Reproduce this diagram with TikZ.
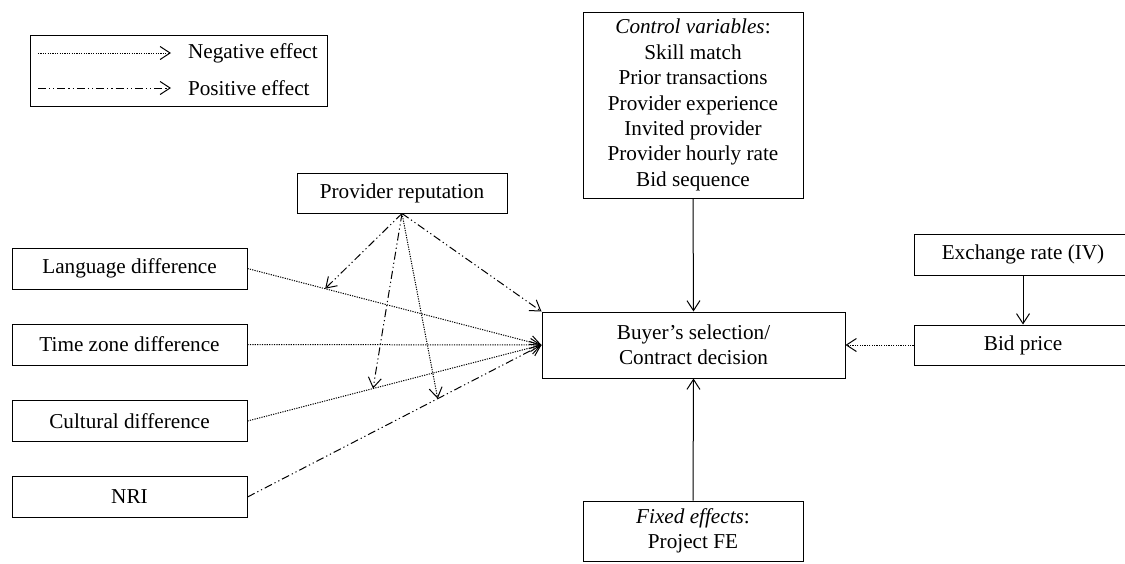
\documentclass[tikz,border=0pt]{standalone}
\usepackage{fontspec}
\setmainfont{Liberation Serif}
\usetikzlibrary{arrows.meta, positioning}

\begin{document}
\begin{tikzpicture}[
    x=0.5pt, y=-0.5pt,
    every node/.style={font=\fontsize{10.6}{12.7}\selectfont},
    box/.style={rectangle, draw, line width=0.5pt, inner sep=0pt, align=center},
    sidebox/.style={box, minimum width=117.5pt, minimum height=20.5pt},
    rightbox/.style={box, minimum width=109pt, minimum height=20.5pt},
    arrow/.style={-{Straight Barb[length=5pt,width=6.5pt]}, line width=0.5pt},
    negarrow/.style={arrow, dash pattern=on 0.6pt off 0.6pt},
    posarrow/.style={arrow, dash pattern=on 4pt off 1.5pt on 0.6pt off 1.5pt on 0.6pt off 1.5pt}
  ]
    \clip[use as bounding box] (0,0) rectangle (1125,563);

    % legend
    \node[box, minimum width=148.5pt, minimum height=35.5pt] (legend) at (178.5,70.5) {};
    \node[anchor=west] (negtxt) at (181,53) {Negative effect};
    \node[anchor=west] (postxt) at (181,88) {Positive effect};
    \coordinate (negfrom) at (38,53);
    \coordinate (posfrom) at (38,88);
    \draw[negarrow, shorten >=5pt] (negfrom) -- (negtxt.west);
    \draw[posarrow, shorten >=5pt] (posfrom) -- (postxt.west);

    % boxes
    \node[box, minimum width=105pt, minimum height=20pt] (rep) at (402,193) {Provider reputation};
    \node[sidebox] (lang) at (129.5,268.5) {Language difference};
    \node[sidebox] (time) at (129.5,344.5) {Time zone difference};
    \node[sidebox] (cult) at (129.5,421) {Cultural difference};
    \node[sidebox] (nri) at (129.5,497) {NRI};
    \node[box, minimum width=151.5pt, minimum height=33pt] (dec) at (693.5,345) {Buyer's selection/\\Contract decision};
    \node[box, minimum width=110pt, minimum height=93pt] (ctrl) at (693,105)
      {\textit{Control variables}:\\Skill match\\Prior transactions\\Provider experience\\Invited provider\\Provider hourly rate\\Bid sequence};
    \node[box, minimum width=110pt, minimum height=30pt] (fe) at (693,531) {\textit{Fixed effects}:\\Project FE};
    \node[rightbox] (exch) at (1023,254.5) {Exchange rate (IV)};
    \node[rightbox, minimum height=20pt] (bid) at (1023,345) {Bid price};

    % main effects
    \draw[negarrow] (lang.east) -- (dec.west);
    \draw[negarrow] (time.east) -- (dec.west);
    \draw[negarrow] (cult.east) -- (dec.west);
    \draw[posarrow] (nri.east) -- (dec.west);
    \draw[negarrow] (bid.west) -- (dec.east);
    \draw[arrow] (exch.south) -- (bid.north);
    \draw[arrow] (ctrl.south) -- (dec.north);
    \draw[arrow] (fe.north) -- (dec.south);

    % moderation by reputation
    \path (lang.east) -- (dec.west) coordinate[pos=0.264] (onlang);
    \path (cult.east) -- (dec.west) coordinate[pos=0.427] (oncult);
    \path (nri.east) -- (dec.west) coordinate[pos=0.647] (onnri);
    \draw[posarrow] (rep.south) -- (onlang);
    \draw[posarrow] (rep.south) -- (oncult);
    \draw[negarrow] (rep.south) -- (onnri);
    \draw[posarrow] (rep.south) -- (dec.north west);
  \end{tikzpicture}
\end{document}
